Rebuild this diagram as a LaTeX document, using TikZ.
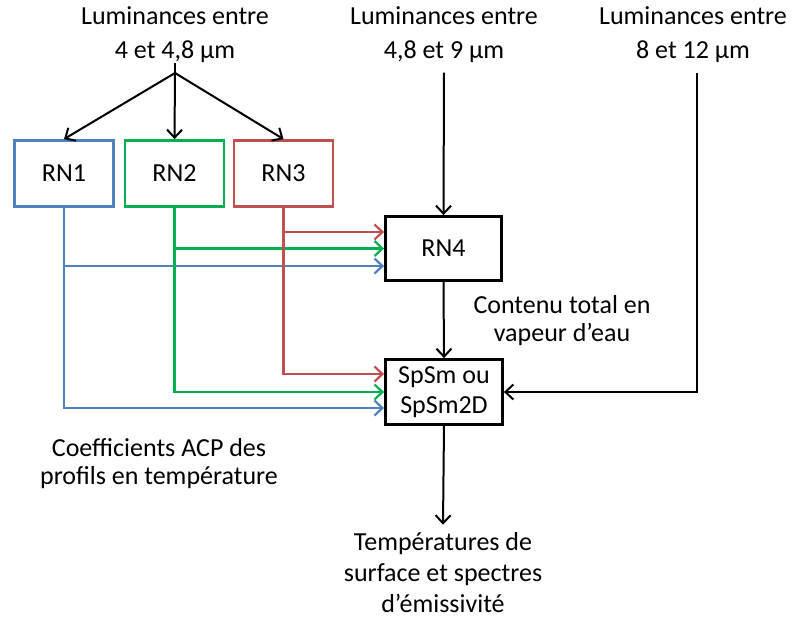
\documentclass[tikz,border=0pt]{standalone}
\usepackage{fontspec}
\setmainfont{Carlito}
\usetikzlibrary{arrows.meta}
\definecolor{rnblue}{RGB}{79,129,189}
\definecolor{rngreen}{RGB}{0,176,80}
\definecolor{rnred}{RGB}{192,80,77}

\begin{document}
\begin{tikzpicture}[x=1pt, y=-1pt,
  rn/.style={rectangle, draw, line width=2.8pt, minimum width=99pt, minimum height=66pt, font=\fontsize{26}{30}\selectfont},
  arrow/.style={-{Straight Barb[length=8pt,width=15pt]}, line width=2pt},
  colarrow/.style={arrow, line width=2.2pt},
  label/.style={align=center, font=\fontsize{26}{31}\selectfont},
]
\useasboundingbox (0,0) rectangle (795,619);

% === Inputs ===
\node[label, font=\fontsize{26}{34}\selectfont] (lum1) at (175,35) {Luminances entre\\4 et 4,8 µm};
\node[label, font=\fontsize{26}{34}\selectfont] (lum2) at (444,35) {Luminances entre\\4,8 et 9 µm};
\node[label, font=\fontsize{26}{34}\selectfont] (lum3) at (693,35) {Luminances entre\\8 et 12 µm};
\coordinate (fork) at (175,73);

% === Networks ===
\node[rn, draw=rnblue] (rn1) at (64,173.5) {RN1};
\node[rn, draw=rngreen] (rn2) at (174.5,173.5) {RN2};
\node[rn, draw=rnred] (rn3) at (283.5,173.5) {RN3};
\node[rn, minimum width=116pt, minimum height=64pt] (rn4) at (443.5,248.5) {RN4};
\node[rn, align=center, minimum width=117pt, minimum height=65pt] (sp) at (444,392) {SpSm ou\\SpSm2D};

% === Labels ===
\node[label, font=\fontsize{26}{28}\selectfont] (vap) at (562,321) {Contenu total en\\vapeur d’eau};
\node[label, font=\fontsize{26}{28}\selectfont] (acp) at (159,464) {Coefficients ACP des\\profils en température};
\node[label, inner sep=8pt] (out) at (443,573) {Températures de\\surface et spectres\\d’émissivité};

% === Black connectors ===
\draw[line width=2pt] ([yshift=4pt]lum1.south) -- (fork);
\draw[arrow] (fork) -- (rn1.north);
\draw[arrow] (fork) -- (rn2.north);
\draw[arrow] (fork) -- (rn3.north);
\draw[arrow] ([yshift=-6pt]lum2.south) -- (rn4.north);
\draw[arrow] ([xshift=4pt,yshift=-6pt]lum3.south) |- (sp.east);
\draw[arrow] (rn4.south) -- (sp.north);
\draw[arrow] (sp.south) -- (out.north);

% === Coloured connectors ===
\draw[colarrow, rnblue] (rn1.south) |- ([yshift=-17.5pt]rn4.west);
\draw[colarrow, rnblue] (rn1.south) |- ([yshift=-16pt]sp.west);
\draw[colarrow, rngreen] (rn2.south) |- (rn4.west);
\draw[colarrow, rngreen] (rn2.south) |- (sp.west);
\draw[colarrow, rnred] (rn3.south) |- ([yshift=16.5pt]rn4.west);
\draw[colarrow, rnred] (rn3.south) |- ([yshift=18pt]sp.west);

\end{tikzpicture}
\end{document}
